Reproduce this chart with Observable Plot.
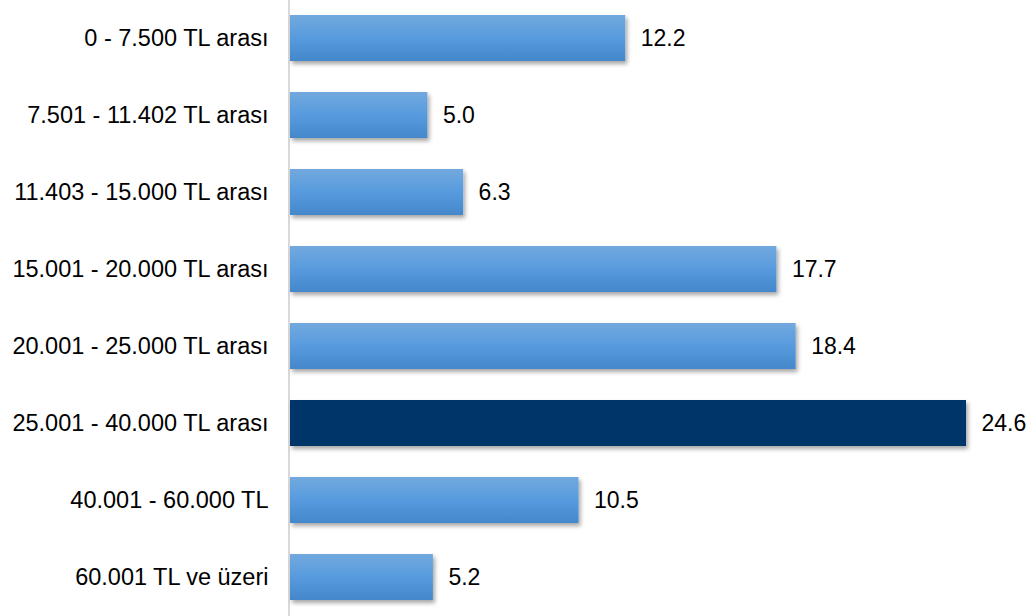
<!DOCTYPE html>
<html>
<head>
<meta charset="utf-8">
<script src="https://cdn.jsdelivr.net/npm/d3@7"></script>
<script src="https://cdn.jsdelivr.net/npm/@observablehq/plot@0.6"></script>
<style>
  html, body { margin: 0; padding: 0; background: #fff; }
  #chart svg { display: block; }
</style>
</head>
<body>
<div id="chart"></div>
<script>
const categories = [
  "0 - 7.500 TL arası",
  "7.501 - 11.402 TL arası",
  "11.403 - 15.000 TL arası",
  "15.001 - 20.000 TL arası",
  "20.001 - 25.000 TL arası",
  "25.001 - 40.000 TL arası",
  "40.001 - 60.000 TL",
  "60.001 TL ve üzeri"
];
const values = [12.2, 5.0, 6.3, 17.7, 18.4, 24.6, 10.5, 5.2];
const highlight = "25.001 - 40.000 TL arası";

const data = categories.map((c, i) => ({category: c, value: values[i], hi: c === highlight}));

const chart = Plot.plot({
  width: 1031,
  height: 616,
  marginLeft: 289,
  marginRight: 0,
  marginTop: 0,
  marginBottom: 0,
  style: {fontFamily: "'Liberation Sans', Arial, sans-serif", background: "#fff", overflow: "visible"},
  x: {domain: [0, 24.6], range: [290, 966], axis: null},
  y: {domain: categories, range: [14, 600.5], paddingInner: 0.404, paddingOuter: 0, label: null},
  color: {domain: ["light", "dark"], range: ["#559ade", "#06356a"]},
  marks: [
    Plot.ruleX([0], {stroke: "#d9d9d9", strokeWidth: 2, dx: -1.5}),
    Plot.barX(data, {x: "value", y: "category", fill: d => d.hi ? "dark" : "light", className: "bars"}),
    Plot.text(data, {x: "value", y: "category", text: d => d.value.toFixed(1), textAnchor: "start", dx: 15, fontSize: 23, fill: "#000"}),
    Plot.axisY({tickSize: 0, tickPadding: 21, fontSize: 23.5, fill: "#000", label: null})
  ]
});

const svg = d3.select(chart);
const defs = svg.insert("defs", ":first-child");
const g = defs.append("linearGradient").attr("id", "barGrad").attr("x1", 0).attr("y1", 0).attr("x2", 0).attr("y2", 1);
g.append("stop").attr("offset", "0%").attr("stop-color", "#72a9de");
g.append("stop").attr("offset", "50%").attr("stop-color", "#579bde");
g.append("stop").attr("offset", "100%").attr("stop-color", "#4487cb");
const f = defs.append("filter").attr("id", "shadow").attr("x", "-5%").attr("y", "-20%").attr("width", "115%").attr("height", "160%");
f.append("feDropShadow").attr("dx", 2).attr("dy", 3).attr("stdDeviation", 2).attr("flood-color", "#000").attr("flood-opacity", 0.35);

svg.selectAll("g.bars rect").each(function() {
  const r = d3.select(this);
  if (r.attr("fill") !== "#06356a") r.attr("fill", "url(#barGrad)");
  r.attr("filter", "url(#shadow)");
});

document.getElementById("chart").appendChild(chart);
</script>
</body>
</html>
